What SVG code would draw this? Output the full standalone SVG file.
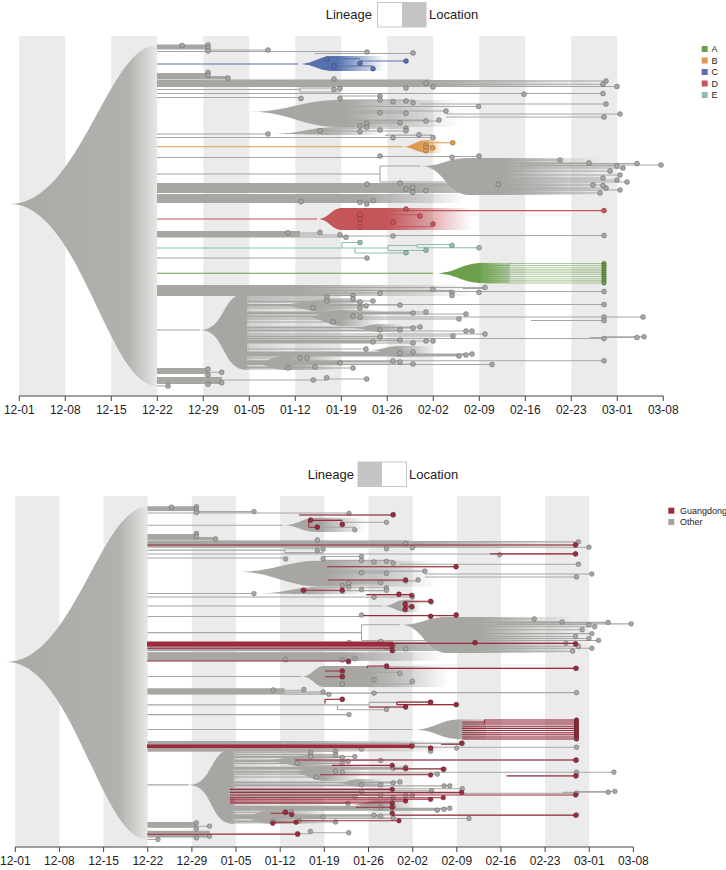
<svg xmlns="http://www.w3.org/2000/svg" xmlns:xlink="http://www.w3.org/1999/xlink" width="726" height="870" viewBox="0 0 726 870">
<style>
text{font-family:"Liberation Sans",Arial,sans-serif;fill:#222}
.tick{font-size:12px;text-anchor:middle}
.lg{font-size:13px}
.key{font-size:9px}
.band{fill:#ebebeb}
.axis{fill:none;stroke:#444;stroke-width:1}
.ln{fill:none;stroke:currentColor;stroke-width:1.1}
.th{fill:currentColor}
.c circle{fill:currentColor;stroke:rgba(0,0,0,0.28);stroke-width:0.8}
</style>
<defs>
<linearGradient id="bigFan" gradientUnits="userSpaceOnUse" x1="10" y1="0" x2="157" y2="0">
<stop offset="0" stop-color="#aba9a6"/><stop offset="0.8" stop-color="#b3b1ae"/><stop offset="0.95" stop-color="#d8d8d6"/><stop offset="1" stop-color="#e8e8e6"/>
</linearGradient>
<linearGradient id="g0"><stop offset="0" stop-color="#fff"/><stop offset="1" stop-color="#fff" stop-opacity="0"/></linearGradient>
<linearGradient id="g1"><stop offset="0" stop-color="#fff"/><stop offset="0.45" stop-color="#fff"/><stop offset="1" stop-color="#fff" stop-opacity="0"/></linearGradient>
<linearGradient id="g2"><stop offset="0" stop-color="#fff"/><stop offset="0.6" stop-color="#fff"/><stop offset="1" stop-color="#fff" stop-opacity="0.35"/></linearGradient>
<linearGradient id="g3"><stop offset="0" stop-color="#fff" stop-opacity="0.5"/><stop offset="1" stop-color="#fff" stop-opacity="0"/></linearGradient>
<mask id="m0" maskContentUnits="objectBoundingBox"><rect width="1" height="1" fill="url(#g0)"/></mask>
<mask id="m1" maskContentUnits="objectBoundingBox"><rect width="1" height="1" fill="url(#g1)"/></mask>
<mask id="m2" maskContentUnits="objectBoundingBox"><rect width="1" height="1" fill="url(#g2)"/></mask>
<mask id="m3" maskContentUnits="objectBoundingBox"><rect width="1" height="1" fill="url(#g3)"/></mask>

<g id="treeBase">
<path d="M10,204 C80,204 108,45 157,45 L157,386 C108,386 80,204 10,204Z" fill="url(#bigFan)"/>
<g class="th">
<rect x="157" y="44.5" width="52" height="5"/>
<rect x="157" y="73" width="51" height="6"/>
<rect x="208" y="76" width="20" height="3"/>
<rect x="157" y="79.5" width="273" height="7.5"/>
<rect x="430" y="80" width="170" height="6.5" mask="url(#m0)"/>
<path d="M250,111.7 C290,111.7 300,100 340,100 L460,100 L460,127 L340,127 C300,127 290,111.7 250,111.7Z" mask="url(#m1)"/>
<path d="M270,134 C300,134 310,127 340,127 L385,127 L385,135 L340,135 C310,135 300,134 270,134Z" mask="url(#m1)"/>
<path d="M420,166 C445,166 445,158 470,158 L600,158 L600,195 L470,195 C445,195 445,166 420,166Z" mask="url(#m1)"/>
<rect x="157" y="183" width="256" height="10"/>
<rect x="413" y="183" width="190" height="10" mask="url(#m0)"/>
<rect x="157" y="194" width="209" height="9"/>
<rect x="366" y="194" width="100" height="9" mask="url(#m0)"/>
<rect x="157" y="231" width="143" height="6.5"/>
<rect x="157" y="285" width="143" height="11"/>
<rect x="300" y="285" width="180" height="11" mask="url(#m0)"/>
<path d="M200,330 C226,330 221,293 247,293 L247,370 C221,370 226,330 200,330Z"/>
<rect x="247" y="293" width="100" height="77" mask="url(#m3)"/>
<path d="M273,305 C300,305 305,299 340,299 L372,299 L372,313 L340,313 C305,313 300,305 273,305Z" mask="url(#m1)"/>
<path d="M303,316.7 C322,316.7 325,310 345,310 L385,310 L385,326 L345,326 C325,326 322,316.7 303,316.7Z" mask="url(#m1)"/>
<path d="M353,328 C365,328 367,324 380,324 L402,324 L402,332 L380,332 C367,332 365,328 353,328Z" mask="url(#m1)"/>
<path d="M370,350 C383,350 386,346 400,346 L432,346 L432,357 L400,357 C386,357 383,350 370,350Z" mask="url(#m1)"/>
<path d="M250,363.3 C268,363.3 270,356 287,356 L335,356 L335,370 L287,370 C270,370 268,363.3 250,363.3Z" mask="url(#m1)"/>
<rect x="157" y="368" width="51" height="6"/>
<rect x="157" y="377" width="65" height="7"/>
</g>
<path class="ln" d="M157,51.5H367 M209,50H268 M315,53.5H413 M430,81H606 M430,84.2H603 M430,86.5H617 M157,89.5H300 M300,88V92 M300,88H334 M300,92H340 M157,93.5H603 M157,97.5H301
M340,96H380 M340,100H413 M340,111H446 M340,113H406 M340,121H439 M340,123H400 M340,126H366 M340,128H406 M340,131H406 M420,104H606 M446,114H620 M446,117H604 M343,106.5H478.5 M345,120H426
M157,134H268 M320,131H360 M385,135.1H432 M157,137.5H433
M157,157.5H380 M380,156.5H479
M157,174H380 M380,166V182 M380,166H420 M380,182H470
M470,160H560 M470,163H589 M470,166H617 M470,168H623 M500,163.5H637 M520,165H661 M470,171H610 M470,175H620 M470,178H603 M470,180H617 M470,182H627 M470,188H606 M470,190H620 M470,193H600 M470,185H593
M413,185H603 M157,190H412
M300,233H320 M300,235H340 M300,237H346 M340,236H393 M393,235.5H604
M157,258H367
M300,287.5H485 M300,290.5H452 M300,293H380 M380,291.5H604 M300,295.5H353 M462.8,288.4H484.4
M157,330H200
M247,297H327 M247,301H373 M247,299H353 M247,302H360 M247,306H366 M247,305H400 M247,308H360 M247,313H413 M247,317H360 M247,312H426 M247,314H466 M247,322H333 M247,316H353 M247,319H459 M247,330H400 M247,328H413 M247,327H420 M247,331H472 M247,334H485 M247,336H453 M247,337H380 M247,340H400 M247,342H373 M247,343H413 M247,341H433 M247,349H366 M247,353H400 M247,352H413 M247,355H466 M247,354H472 M247,358H307 M247,362H400 M247,364H413 M247,368H353 M247,367H315 M247,363H340 M247,361H393 M247,356H459
M247,304.5H604 M300,317H643 M531,320.5H604 M247,338.5H604 M590,337.5H637 M604,336.7H644 M247,360.7H604 M247,364.5H492
M157,386H168 M208,372.3H221.7 M221.7,380H327 M327,379H367"/>
<g class="c">
<circle cx="182" cy="45.5" r="2.5"/><circle cx="208" cy="45" r="2.5"/><circle cx="208" cy="48" r="2.5"/><circle cx="208" cy="51" r="2.5"/><circle cx="268" cy="50" r="2.5"/><circle cx="367" cy="52" r="2.5"/><circle cx="413" cy="53" r="2.5"/>
<circle cx="208" cy="72.5" r="2.5"/><circle cx="208" cy="75.5" r="2.5"/><circle cx="228" cy="78" r="2.5"/>
<circle cx="334" cy="79" r="2.5"/><circle cx="426" cy="83" r="2.5"/><circle cx="406" cy="88" r="2.5"/><circle cx="433" cy="87" r="2.5"/><circle cx="334" cy="89.5" r="2.5"/><circle cx="340" cy="88.5" r="2.5"/><circle cx="301" cy="98.5" r="2.5"/><circle cx="606" cy="81" r="2.5"/><circle cx="603" cy="84.2" r="2.5"/><circle cx="617" cy="86.5" r="2.5"/><circle cx="603" cy="93.5" r="2.5"/><circle cx="524" cy="94.3" r="2.5"/>
<circle cx="380" cy="96" r="2.5"/><circle cx="380" cy="100" r="2.5"/><circle cx="393" cy="101.7" r="2.5"/><circle cx="406" cy="101" r="2.5"/><circle cx="413" cy="102.7" r="2.5"/><circle cx="446" cy="111" r="2.5"/><circle cx="380" cy="112.7" r="2.5"/><circle cx="406" cy="113.3" r="2.5"/><circle cx="426" cy="121" r="2.5"/><circle cx="439" cy="120" r="2.5"/><circle cx="400" cy="122.7" r="2.5"/><circle cx="360" cy="126" r="2.5"/><circle cx="366.7" cy="123.3" r="2.5"/><circle cx="366.7" cy="127.3" r="2.5"/><circle cx="380" cy="130" r="2.5"/><circle cx="406" cy="128.3" r="2.5"/><circle cx="406" cy="130.7" r="2.5"/><circle cx="340" cy="98.3" r="2.5"/><circle cx="606" cy="104" r="2.5"/><circle cx="620" cy="114" r="2.5"/><circle cx="604" cy="117" r="2.5"/><circle cx="478.5" cy="106.5" r="2.5"/>
<circle cx="268" cy="134" r="2.5"/><circle cx="320" cy="130.7" r="2.5"/><circle cx="360" cy="131.7" r="2.5"/><circle cx="393" cy="137.7" r="2.5"/><circle cx="433" cy="137.5" r="2.5"/><circle cx="419" cy="134.7" r="2.5"/>
<circle cx="380" cy="156" r="2.5"/><circle cx="452" cy="157.3" r="2.5"/><circle cx="479" cy="156" r="2.5"/>
<circle cx="560" cy="160" r="2.5"/><circle cx="589" cy="163" r="2.5"/><circle cx="617" cy="166" r="2.5"/><circle cx="623" cy="168" r="2.5"/><circle cx="637" cy="163.5" r="2.5"/><circle cx="661" cy="165" r="2.5"/><circle cx="610" cy="171" r="2.5"/><circle cx="620" cy="175" r="2.5"/><circle cx="603" cy="178" r="2.5"/><circle cx="617" cy="180" r="2.5"/><circle cx="627" cy="182" r="2.5"/><circle cx="606" cy="188" r="2.5"/><circle cx="620" cy="190" r="2.5"/><circle cx="600" cy="193" r="2.5"/><circle cx="593" cy="185" r="2.5"/>
<circle cx="367" cy="184" r="2.5"/><circle cx="400" cy="183" r="2.5"/><circle cx="406" cy="189" r="2.5"/><circle cx="412.7" cy="187.7" r="2.5"/><circle cx="412.7" cy="192.3" r="2.5"/><circle cx="426" cy="190.7" r="2.5"/><circle cx="498.3" cy="184.3" r="2.5"/><circle cx="603" cy="185.5" r="2.5"/>
<circle cx="301" cy="201.7" r="2.5"/><circle cx="360" cy="202.3" r="2.5"/><circle cx="366.7" cy="204" r="2.5"/><circle cx="373.3" cy="200.7" r="2.5"/>
<circle cx="288" cy="232.7" r="2.5"/><circle cx="320" cy="232.3" r="2.5"/><circle cx="340" cy="234.7" r="2.5"/><circle cx="346" cy="237.3" r="2.5"/><circle cx="393" cy="236" r="2.5"/><circle cx="604" cy="235.5" r="2.5"/>
<circle cx="367" cy="258" r="2.5"/>
<circle cx="485" cy="287.4" r="2.5"/><circle cx="433" cy="289.3" r="2.5"/><circle cx="452" cy="292.5" r="2.5"/><circle cx="452" cy="295.5" r="2.5"/><circle cx="479" cy="292.3" r="2.5"/><circle cx="380" cy="293.3" r="2.5"/><circle cx="353" cy="295.7" r="2.5"/><circle cx="604" cy="291.5" r="2.5"/>
<circle cx="327" cy="297" r="2.5"/><circle cx="327" cy="301" r="2.5"/><circle cx="353" cy="299" r="2.5"/><circle cx="360" cy="302" r="2.5"/><circle cx="373" cy="301" r="2.5"/><circle cx="366" cy="306" r="2.5"/><circle cx="400" cy="305" r="2.5"/><circle cx="313" cy="308" r="2.5"/><circle cx="360" cy="308" r="2.5"/><circle cx="413" cy="313" r="2.5"/><circle cx="360" cy="317" r="2.5"/><circle cx="426" cy="312" r="2.5"/><circle cx="466" cy="314" r="2.5"/><circle cx="333" cy="322" r="2.5"/><circle cx="353" cy="316" r="2.5"/><circle cx="459" cy="319" r="2.5"/><circle cx="380" cy="330" r="2.5"/><circle cx="400" cy="330" r="2.5"/><circle cx="413" cy="328" r="2.5"/><circle cx="420" cy="327" r="2.5"/><circle cx="466" cy="331" r="2.5"/><circle cx="472" cy="331" r="2.5"/><circle cx="485" cy="334" r="2.5"/><circle cx="453" cy="336" r="2.5"/><circle cx="380" cy="337" r="2.5"/><circle cx="400" cy="340" r="2.5"/><circle cx="373" cy="342" r="2.5"/><circle cx="413" cy="343" r="2.5"/><circle cx="426" cy="341" r="2.5"/><circle cx="433" cy="341" r="2.5"/><circle cx="366" cy="349" r="2.5"/><circle cx="400" cy="353" r="2.5"/><circle cx="413" cy="352" r="2.5"/><circle cx="466" cy="355" r="2.5"/><circle cx="472" cy="354" r="2.5"/><circle cx="300" cy="358" r="2.5"/><circle cx="307" cy="358" r="2.5"/><circle cx="400" cy="362" r="2.5"/><circle cx="413" cy="364" r="2.5"/><circle cx="288" cy="368" r="2.5"/><circle cx="315" cy="367" r="2.5"/><circle cx="353" cy="368" r="2.5"/><circle cx="340" cy="363" r="2.5"/><circle cx="393" cy="361" r="2.5"/><circle cx="459" cy="356" r="2.5"/>
<circle cx="604" cy="304.5" r="2.5"/><circle cx="604" cy="317" r="2.5"/><circle cx="604" cy="320.5" r="2.5"/><circle cx="643" cy="317" r="2.5"/><circle cx="604" cy="338.5" r="2.5"/><circle cx="637" cy="337.5" r="2.5"/><circle cx="644" cy="336.7" r="2.5"/><circle cx="604" cy="360.7" r="2.5"/><circle cx="492" cy="364.5" r="2.5"/>
<circle cx="168" cy="386" r="2.5"/><circle cx="208" cy="369" r="2.5"/><circle cx="208" cy="375" r="2.5"/><circle cx="208" cy="384.3" r="2.5"/><circle cx="221.7" cy="372.3" r="2.5"/><circle cx="221.7" cy="382.7" r="2.5"/><circle cx="313.3" cy="380" r="2.5"/><circle cx="326.7" cy="377.7" r="2.5"/><circle cx="366.7" cy="379" r="2.5"/>
</g>
</g>

<g id="cladeC">
<path class="ln" d="M157,64H298 M327,58.7H360 M360,61H406 M334,66H373 M327,58.7V66"/>
<path class="th" d="M298,64 C314,64 318,56 334,56 L385,56 L385,71 L334,71 C318,71 314,64 298,64Z" mask="url(#m1)"/>
<g class="c"><circle cx="327" cy="58.7" r="2.5"/><circle cx="360" cy="63.3" r="2.5"/><circle cx="334" cy="66" r="2.5"/><circle cx="373" cy="68.7" r="2.5"/><circle cx="406" cy="61" r="2.5"/></g>
</g>
<g id="cladeB">
<path class="ln" d="M157,146.7H402 M428,142.7H452"/>
<path class="th" d="M402,146.7 C413,146.7 416,140 428,140 L442,140 L442,153 L428,153 C416,153 413,146.7 402,146.7Z" mask="url(#m1)"/>
<g class="c"><circle cx="426" cy="145" r="2.5"/><circle cx="426" cy="147.7" r="2.5"/><circle cx="426" cy="150.7" r="2.5"/><circle cx="432.7" cy="147.7" r="2.5"/><circle cx="452.7" cy="142.7" r="2.5"/></g>
</g>
<g id="cladeD">
<path class="ln" d="M157,219H317 M386,210.5H406 M386,208V211 M406,210.6H604 M360,214.7H420 M360,222.3H393 M360,226.7H433"/>
<path class="th" d="M317,219 C330,219 330,208 343,208 L472,208 L472,230 L343,230 C330,230 330,219 317,219Z" mask="url(#m1)"/>
<g class="c"><circle cx="360" cy="214.7" r="2.5"/><circle cx="360" cy="219" r="2.5"/><circle cx="360" cy="226.7" r="2.5"/><circle cx="393" cy="222.3" r="2.5"/><circle cx="420" cy="216" r="2.5"/><circle cx="433" cy="224" r="2.5"/><circle cx="406" cy="209" r="2.5"/><circle cx="604" cy="210.6" r="2.5"/></g>
</g>
<g id="cladeE">
<path class="ln" d="M157,248H342 M342,242.5V248 M342,242.5H360 M342,248H355 M355,248V253 M355,253H406 M355,248H388 M388,245.5V250.5 M388,250.5H426 M388,245.5H417 M417,244.5V247.8 M417,244.5H452 M417,247.8H479"/>
<g class="c"><circle cx="360" cy="242.5" r="2.5"/><circle cx="406" cy="252.7" r="2.5"/><circle cx="426" cy="250.2" r="2.5"/><circle cx="452" cy="245.4" r="2.5"/><circle cx="479" cy="247.8" r="2.5"/></g>
</g>
<g id="cladeA">
<path class="ln" d="M157,273.3H433"/>
<path class="th" d="M433,273.3 C458,273.3 460,262.7 485,262.7 L510,262.7 L510,283.3 L485,283.3 C460,283.3 458,273.3 433,273.3Z" mask="url(#m2)"/>
<path class="ln" stroke-opacity="0.55" d="M508,263.5V267 M508,263.5H604 M485,265.5H604 M485,267.7H604 M485,269.9H604 M485,272.1H604 M485,274.3H604 M485,276.5H604 M485,278.7H604 M485,280.9H604 M485,283H604"/>
<g class="c"><circle cx="604" cy="263.5" r="2.3"/><circle cx="604" cy="265.5" r="2.3"/><circle cx="604" cy="267.7" r="2.3"/><circle cx="604" cy="269.9" r="2.3"/><circle cx="604" cy="272.1" r="2.3"/><circle cx="604" cy="274.3" r="2.3"/><circle cx="604" cy="276.5" r="2.3"/><circle cx="604" cy="278.7" r="2.3"/><circle cx="604" cy="280.9" r="2.3"/><circle cx="604" cy="283" r="2.3"/></g>
</g>
</defs>

<g id="panel-top">
<g id="bands-top">
<rect class="band" x="19.3" y="36" width="46" height="360"/>
<rect class="band" x="111.3" y="36" width="46" height="360"/>
<rect class="band" x="203.3" y="36" width="46" height="360"/>
<rect class="band" x="295.3" y="36" width="46" height="360"/>
<rect class="band" x="387.3" y="36" width="46" height="360"/>
<rect class="band" x="479.3" y="36" width="46" height="360"/>
<rect class="band" x="571.3" y="36" width="46" height="360"/>
</g>
<g id="connectors-top">
<use xlink:href="#treeBase" href="#treeBase" style="color:#a8a6a3"/>
</g>
<g id="node-A-top"><use xlink:href="#cladeA" href="#cladeA" style="color:#6c9f4a"/></g>
<g id="node-B-top"><use xlink:href="#cladeB" href="#cladeB" style="color:#dd9a50"/></g>
<g id="node-C-top"><use xlink:href="#cladeC" href="#cladeC" style="color:#5672ae"/></g>
<g id="node-D-top"><use xlink:href="#cladeD" href="#cladeD" style="color:#c4555a"/></g>
<g id="node-E-top"><use xlink:href="#cladeE" href="#cladeE" style="color:#8fbdb5"/></g>
<g id="axis-top">
<path class="axis" d="M19.3,401V396H663.3V401 M65.3,396V401 M111.3,396V401 M157.3,396V401 M203.3,396V401 M249.3,396V401 M295.3,396V401 M341.3,396V401 M387.3,396V401 M433.3,396V401 M479.3,396V401 M525.3,396V401 M571.3,396V401 M617.3,396V401"/>
<text class="tick" x="19.3" y="414">12-01</text><text class="tick" x="65.3" y="414">12-08</text><text class="tick" x="111.3" y="414">12-15</text><text class="tick" x="157.3" y="414">12-22</text><text class="tick" x="203.3" y="414">12-29</text><text class="tick" x="249.3" y="414">01-05</text><text class="tick" x="295.3" y="414">01-12</text><text class="tick" x="341.3" y="414">01-19</text><text class="tick" x="387.3" y="414">01-26</text><text class="tick" x="433.3" y="414">02-02</text><text class="tick" x="479.3" y="414">02-09</text><text class="tick" x="525.3" y="414">02-16</text><text class="tick" x="571.3" y="414">02-23</text><text class="tick" x="617.3" y="414">03-01</text><text class="tick" x="663.3" y="414">03-08</text>
</g>
<g id="toggle-top">
<text class="lg" x="372" y="19" text-anchor="end">Lineage</text>
<rect x="377.5" y="2.5" width="48.5" height="24.5" fill="#fff" stroke="#c6c6c6"/>
<rect x="402" y="2.5" width="24" height="24.5" fill="#c4c4c4"/>
<text class="lg" x="429" y="19">Location</text>
</g>
<g id="legend-top">
<rect x="701.7" y="46" width="6" height="6" fill="#6c9f4a"/><text class="key" x="711.5" y="52">A</text>
<rect x="701.7" y="57.5" width="6" height="6" fill="#dd9a50"/><text class="key" x="711.5" y="63.5">B</text>
<rect x="701.7" y="69" width="6" height="6" fill="#5672ae"/><text class="key" x="711.5" y="75">C</text>
<rect x="701.7" y="80.5" width="6" height="6" fill="#c4555a"/><text class="key" x="711.5" y="86.5">D</text>
<rect x="701.7" y="92" width="6" height="6" fill="#8fbdb5"/><text class="key" x="711.5" y="98">E</text>
</g>
</g>

<g id="panel-bottom">
<g id="bands-bottom">
<rect class="band" x="15.3" y="496" width="44.15" height="351"/>
<rect class="band" x="103.6" y="496" width="44.15" height="351"/>
<rect class="band" x="191.9" y="496" width="44.15" height="351"/>
<rect class="band" x="280.2" y="496" width="44.15" height="351"/>
<rect class="band" x="368.5" y="496" width="44.15" height="351"/>
<rect class="band" x="456.8" y="496" width="44.15" height="351"/>
<rect class="band" x="545.1" y="496" width="44.15" height="351"/>
</g>
<g id="connectors-bottom" transform="matrix(0.9598 0 0 0.976 -3.22 462.8)">
<use xlink:href="#treeBase" href="#treeBase" style="color:#a8a6a3"/>
<use xlink:href="#cladeA" href="#cladeA" style="color:#a8a6a3"/>
<use xlink:href="#cladeB" href="#cladeB" style="color:#a8a6a3"/>
<use xlink:href="#cladeC" href="#cladeC" style="color:#a8a6a3"/>
<use xlink:href="#cladeD" href="#cladeD" style="color:#a8a6a3"/>
<use xlink:href="#cladeE" href="#cladeE" style="color:#a8a6a3"/>
<g id="guangdong" style="color:#9e2a3c">
<rect class="th" x="156.5" y="183.3" width="256.5" height="5"/>
<rect class="th" x="156.5" y="288.6" width="276" height="3.6"/>
<path class="ln" d="M315,53.5H413 M325,59V66 M325,59H360 M325,66H334 M157,84.2H603 M514,93.3H603 M344,106.5H478.5 M345,120H426 M319.4,130.6H360 M385,135.1H432.3
M425,141.9H452 M425,141.9V150.1 M425,147.4H432 M382,156.6H478.5 M413,185H603 M157,190H412 M156.5,203H366.3
M386,208.2H406 M386,208.2V210.6 M406,210.6H603.2 M342,213.3H360 M342,219.2H360
M342,242.3V246 M342,242.3H360 M388,250.2H426 M416.7,245.4V247.8 M416.7,245.4H452 M416.7,247.8H478.5
M508,263.5V267 M508,263.5H604 M485,265.5H604 M485,267.7H604 M485,269.9H604 M485,272.1H604 M485,274.3H604 M485,276.5H604 M485,278.7H604 M485,280.9H604 M485,283H604
M462.8,288.4H484.4 M310.7,304.5H603.2 M349,310H412 M413,313.4H465.2 M336.7,319.6H452
M243,334.6H412 M243,337.7H484.4 M243,340.4H603.2 M243,343.2H465.2 M243,344.8H452 M243,346.5H426 M243,348.4H412 M374,353H412 M412,361.2H603.2 M314,366.7H419 M156.5,380.6H313.5"/>
<path class="ln" stroke-width="2.2" d="M531.3,320.9H603.2 M285.4,359.1H307.3 M287.5,368.3H314.2"/>
<g class="c">
<circle cx="413" cy="53.5" r="2.5"/><circle cx="327" cy="58.7" r="2.5"/><circle cx="360" cy="63" r="2.5"/><circle cx="334" cy="66" r="2.5"/><circle cx="603" cy="84.2" r="2.5"/><circle cx="603" cy="93.3" r="2.5"/><circle cx="478.5" cy="106.5" r="2.5"/><circle cx="426" cy="120" r="2.5"/><circle cx="319.4" cy="130.6" r="2.5"/><circle cx="360" cy="130.6" r="2.5"/><circle cx="419" cy="134.7" r="2.5"/><circle cx="432.3" cy="135.8" r="2.5"/>
<circle cx="452" cy="141.9" r="2.5"/><circle cx="425.3" cy="144.7" r="2.5"/><circle cx="432.3" cy="147.4" r="2.5"/><circle cx="425.3" cy="150.1" r="2.5"/><circle cx="452" cy="157.3" r="2.5"/><circle cx="478.5" cy="155.9" r="2.5"/>
<circle cx="498.3" cy="184.3" r="2.5"/><circle cx="603" cy="185.5" r="2.5"/><circle cx="412" cy="187.4" r="2.5"/><circle cx="412" cy="192.5" r="2.5"/><circle cx="366.3" cy="203.4" r="2.5"/>
<circle cx="406.2" cy="208.2" r="2.5"/><circle cx="603.2" cy="210.6" r="2.5"/><circle cx="360" cy="213.3" r="2.5"/><circle cx="360" cy="219.2" r="2.5"/>
<circle cx="360" cy="242.3" r="2.5"/><circle cx="426" cy="250.2" r="2.5"/><circle cx="452" cy="245.4" r="2.5"/><circle cx="478.5" cy="247.8" r="2.5"/>
<circle cx="604" cy="263.5" r="2.3"/><circle cx="604" cy="265.5" r="2.3"/><circle cx="604" cy="267.7" r="2.3"/><circle cx="604" cy="269.9" r="2.3"/><circle cx="604" cy="272.1" r="2.3"/><circle cx="604" cy="274.3" r="2.3"/><circle cx="604" cy="276.5" r="2.3"/><circle cx="604" cy="278.7" r="2.3"/><circle cx="604" cy="280.9" r="2.3"/><circle cx="604" cy="283" r="2.3"/>
<circle cx="432.3" cy="290.5" r="2.5"/><circle cx="484.4" cy="287.4" r="2.5"/><circle cx="452" cy="292.5" r="2.5"/><circle cx="603.2" cy="304.8" r="2.5"/><circle cx="412" cy="310" r="2.5"/><circle cx="426" cy="313.4" r="2.5"/><circle cx="465.2" cy="314" r="2.5"/><circle cx="452" cy="320" r="2.5"/><circle cx="603.2" cy="320.9" r="2.5"/>
<circle cx="412" cy="334.6" r="2.5"/><circle cx="484.4" cy="337.7" r="2.5"/><circle cx="603.2" cy="340.4" r="2.5"/><circle cx="465.2" cy="343.1" r="2.5"/><circle cx="452" cy="344.8" r="2.5"/><circle cx="426" cy="346.5" r="2.5"/><circle cx="412" cy="348.7" r="2.5"/><circle cx="412" cy="353" r="2.5"/>
<circle cx="301" cy="358.1" r="2.5"/><circle cx="307.3" cy="360.5" r="2.5"/><circle cx="412" cy="359.1" r="2.5"/><circle cx="603.2" cy="361.2" r="2.5"/><circle cx="287.5" cy="369.4" r="2.5"/><circle cx="311.8" cy="368.3" r="2.5"/><circle cx="419" cy="366.7" r="2.5"/><circle cx="313.5" cy="380.6" r="2.5"/>
</g>
</g>
</g>
<g id="axis-bottom">
<path class="axis" d="M15.3,852V847H633.4V852 M59.45,847V852 M103.6,847V852 M147.75,847V852 M191.9,847V852 M236.05,847V852 M280.2,847V852 M324.35,847V852 M368.5,847V852 M412.65,847V852 M456.8,847V852 M500.95,847V852 M545.1,847V852 M589.25,847V852"/>
<text class="tick" x="15.3" y="865">12-01</text><text class="tick" x="59.45" y="865">12-08</text><text class="tick" x="103.6" y="865">12-15</text><text class="tick" x="147.75" y="865">12-22</text><text class="tick" x="191.9" y="865">12-29</text><text class="tick" x="236.05" y="865">01-05</text><text class="tick" x="280.2" y="865">01-12</text><text class="tick" x="324.35" y="865">01-19</text><text class="tick" x="368.5" y="865">01-26</text><text class="tick" x="412.65" y="865">02-02</text><text class="tick" x="456.8" y="865">02-09</text><text class="tick" x="500.95" y="865">02-16</text><text class="tick" x="545.1" y="865">02-23</text><text class="tick" x="589.25" y="865">03-01</text><text class="tick" x="633.4" y="865">03-08</text>
</g>
<g id="toggle-bottom">
<text class="lg" x="354" y="479" text-anchor="end">Lineage</text>
<rect x="358" y="462" width="48.5" height="24.5" fill="#fff" stroke="#c6c6c6"/>
<rect x="358" y="462" width="24" height="24.5" fill="#c4c4c4"/>
<text class="lg" x="409" y="479">Location</text>
</g>
<g id="legend-bottom">
<rect x="668.3" y="507.7" width="6" height="6" fill="#9e2a3c"/><text class="key" x="680" y="513.7">Guangdong</text>
<rect x="668.3" y="519" width="6" height="6" fill="#a3a3a3"/><text class="key" x="680" y="525">Other</text>
</g>
</g>
</svg>
